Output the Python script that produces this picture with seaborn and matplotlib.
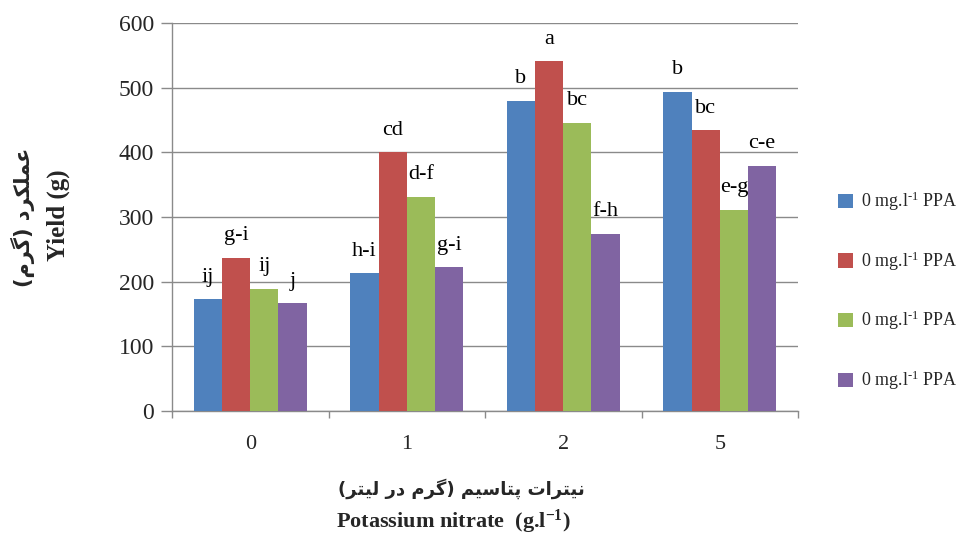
import matplotlib
matplotlib.use("Agg")
import matplotlib.pyplot as plt
import seaborn as sns
import pandas as pd
from matplotlib.ticker import FixedLocator

# ---------------- data ----------------
categories = ["0", "1", "2", "5"]
series_ids = ["s1", "s2", "s3", "s4"]
series_labels = [r"0 mg.l$^{\text{-1}}$ PPA", r"0 mg.l$^{\text{-1}}$ PPA",
                 r"0 mg.l$^{\text{-1}}$ PPA", r"0 mg.l$^{\text{-1}}$ PPA"]
s1_values = [173, 213, 480, 494]
s2_values = [237, 400, 541, 434]
s3_values = [189, 331, 446, 311]
s4_values = [167, 222, 274, 379]
s1_letters = ["ij", "h-i", "b", "b"]
s2_letters = ["g-i", "cd", "a", "bc"]
s3_letters = ["ij", "d-f", "bc", "e-g"]
s4_letters = ["j", "g-i", "f-h", "c-e"]
y_ticks = [0, 100, 200, 300, 400, 500, 600]

x_label_fa = "نیترات پتاسیم (گرم در لیتر)"
x_label_en = r"Potassium nitrate  (g.l$^{\mathbf{-1}}$)"
y_label_fa = "عملکرد (گرم)"
y_label_en = "Yield (g)"

colors = ["#4F81BD", "#C0504D", "#9BBB59", "#8064A2"]

# ------------- Persian shaping (presentation forms) -------------
FORMS = {
    "ا": ("\uFE8D", "\uFE8E", None, None),
    "د": ("\uFEA9", "\uFEAA", None, None),
    "ر": ("\uFEAD", "\uFEAE", None, None),
    "ب": ("\uFE8F", "\uFE90", "\uFE91", "\uFE92"),
    "ت": ("\uFE95", "\uFE96", "\uFE97", "\uFE98"),
    "پ": ("\uFB56", "\uFB57", "\uFB58", "\uFB59"),
    "س": ("\uFEB1", "\uFEB2", "\uFEB3", "\uFEB4"),
    "ع": ("\uFEC9", "\uFECA", "\uFECB", "\uFECC"),
    "م": ("\uFEE1", "\uFEE2", "\uFEE3", "\uFEE4"),
    "ل": ("\uFEDD", "\uFEDE", "\uFEDF", "\uFEE0"),
    "ک": ("\uFB8E", "\uFB8F", "\uFB90", "\uFB91"),
    "گ": ("\uFB92", "\uFB93", "\uFB94", "\uFB95"),
    "ن": ("\uFEE5", "\uFEE6", "\uFEE7", "\uFEE8"),
    "ی": ("\uFBFC", "\uFBFD", "\uFBFE", "\uFBFF"),
}


def shape_fa(text):
    out = []
    n = len(text)
    for i, ch in enumerate(text):
        if ch not in FORMS:
            out.append(ch)
            continue
        f = FORMS[ch]
        prev = text[i - 1] if i > 0 else ""
        nxt = text[i + 1] if i < n - 1 else ""
        pj = prev in FORMS and FORMS[prev][2] is not None
        nj = f[2] is not None and nxt in FORMS
        if pj and nj:
            out.append(f[3])
        elif pj:
            out.append(f[1])
        elif nj:
            out.append(f[2])
        else:
            out.append(f[0])
    vis = "".join(reversed(out))
    vis = vis.translate(str.maketrans({"(": ")", ")": "("}))
    return vis


# ---------------- style ----------------
sns.set_style("white")
plt.rcParams["font.family"] = ["Liberation Serif", "DejaVu Sans"]
plt.rcParams["mathtext.fontset"] = "custom"
plt.rcParams["mathtext.rm"] = "Liberation Serif"
plt.rcParams["mathtext.bf"] = "Liberation Serif:bold"
plt.rcParams["mathtext.default"] = "regular"

grid_c = "#8A8A8A"

df = pd.DataFrame({
    "cat": categories * 4,
    "series": [s for s in series_ids for _ in categories],
    "value": s1_values + s2_values + s3_values + s4_values,
})
letters = [s1_letters, s2_letters, s3_letters, s4_letters]

fig = plt.figure(figsize=(9.72, 5.37), dpi=100)
ax = fig.add_axes([172 / 972, 1 - 411 / 537, (798 - 172) / 972, (411 - 23) / 537])

sns.barplot(data=df, x="cat", y="value", hue="series", order=categories,
            hue_order=series_ids, palette=colors, width=0.72, gap=0,
            saturation=1, errorbar=None, ax=ax, legend=True, zorder=3,
            linewidth=0)

for cont, labs in zip(ax.containers, letters):
    for bar, lab in zip(cont, labs):
        ax.annotate(lab, (bar.get_x() + bar.get_width() / 2, bar.get_height()),
                    xytext=(0, 9), textcoords="offset points",
                    ha="center", va="bottom", fontsize=16, color="black",
                    zorder=5)

ax.set_ylim(0, 600)
ax.set_xlim(-0.5, 3.5)
ax.set_yticks(y_ticks)
ax.yaxis.grid(True, color=grid_c, linewidth=1.0, zorder=0)
ax.set_axisbelow(True)
ax.xaxis.set_minor_locator(FixedLocator([-0.5, 0.5, 1.5, 2.5, 3.5]))
ax.tick_params(axis="x", which="major", length=0, pad=17, labelsize=16)
ax.tick_params(axis="x", which="minor", length=5, width=1, color=grid_c,
               direction="out", bottom=True)
ax.tick_params(axis="y", which="major", length=8, width=1, color=grid_c,
               direction="out", left=True, pad=5, labelsize=17)
for s in ["top", "right"]:
    ax.spines[s].set_visible(False)
for s in ["left", "bottom"]:
    ax.spines[s].set_color(grid_c)
    ax.spines[s].set_linewidth(1.0)
ax.set_xlabel("")
ax.set_ylabel("")

handles, _ = ax.get_legend_handles_labels()
ax.legend(handles, series_labels, loc="center left",
          bbox_to_anchor=(838 / 972, 1 - 291 / 537),
          bbox_transform=fig.transFigure, frameon=False, fontsize=13,
          labelspacing=2.0, handlelength=0.85, handleheight=0.85,
          handletextpad=0.45, borderpad=0, borderaxespad=0)

# axis titles
fig.text(461 / 972, 1 - 489 / 537, shape_fa(x_label_fa), ha="center",
         va="center", fontsize=13, fontweight="bold", family=["DejaVu Sans"])
fig.text(453 / 972, 1 - 522 / 537, x_label_en, ha="center", va="center",
         fontsize=16, fontweight="bold")
fig.text(23 / 972, 1 - 217 / 537, shape_fa(y_label_fa), ha="center",
         va="center", rotation=90, fontsize=15, fontweight="bold",
         family=["DejaVu Sans"])
fig.text(58 / 972, 1 - 215 / 537, y_label_en, ha="center", va="center",
         rotation=90, fontsize=18, fontweight="bold")

fig.savefig("out.png", dpi=100)
